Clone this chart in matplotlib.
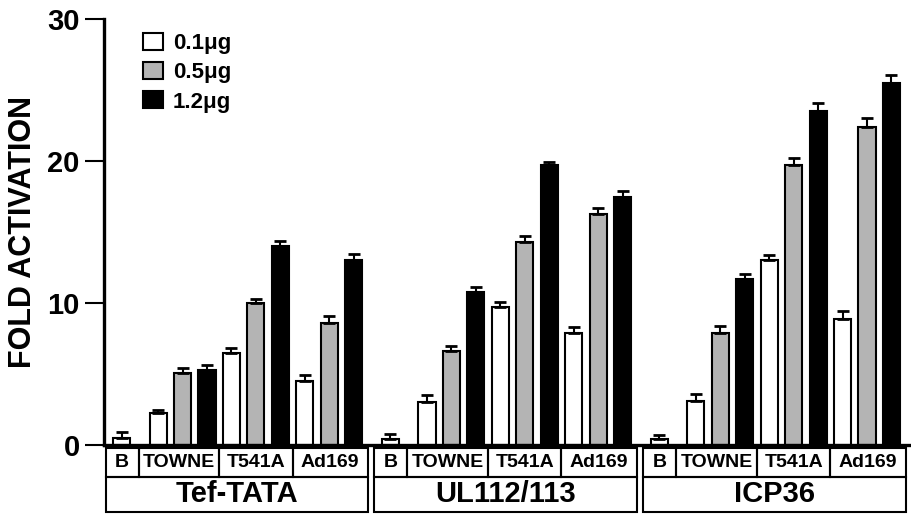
import numpy as np
import matplotlib
matplotlib.use("Agg")
import matplotlib.pyplot as plt
from matplotlib.patches import Rectangle, Patch
from matplotlib.transforms import blended_transform_factory

plt.rcParams['font.family'] = ['Liberation Sans', 'DejaVu Sans']
plt.rcParams['font.weight'] = 'bold'

reporters = ["Tef-TATA", "UL112/113", "ICP36"]
constructs = ["TOWNE", "T541A", "Ad169"]
doses = ["0.1\u03bcg", "0.5\u03bcg", "1.2\u03bcg"]

# basal (B) value per reporter
basal = [0.5, 0.42, 0.42]
basal_err = [0.4, 0.35, 0.3]

# per reporter: rows = construct, cols = dose
tef_tata = [[2.25, 5.1, 5.3], [6.5, 10.0, 14.0], [4.5, 8.6, 13.0]]
tef_tata_err = [[0.2, 0.3, 0.3], [0.35, 0.3, 0.4], [0.4, 0.5, 0.45]]
ul112 = [[3.05, 6.6, 10.8], [9.75, 14.3, 19.7], [7.9, 16.3, 17.5]]
ul112_err = [[0.5, 0.35, 0.3], [0.3, 0.4, 0.2], [0.4, 0.4, 0.4]]
icp36 = [[3.1, 7.9, 11.7], [13.05, 19.7, 23.5], [8.9, 22.4, 25.5]]
icp36_err = [[0.5, 0.5, 0.35], [0.35, 0.5, 0.6], [0.55, 0.65, 0.55]]

values = [tef_tata, ul112, icp36]
errors = [tef_tata_err, ul112_err, icp36_err]

colors = ["white", "#b4b4b4", "black"]
width = 0.7
stride = 11

fig = plt.figure(figsize=(9.12, 5.14), dpi=100)
ax = fig.add_axes([104/912, 69/514, 806/912, 426/514])

for g in range(3):
    off = g * stride
    ax.bar(off, basal[g], width, color="white", edgecolor="black", linewidth=1.5,
           yerr=[[0], [basal_err[g]]], error_kw=dict(ecolor="black", elinewidth=1.5, capsize=4.5, capthick=2))
    for c in range(3):
        for d in range(3):
            x = off + 1.5 + c * 3 + d
            ax.bar(x, values[g][c][d], width, color=colors[d], edgecolor="black", linewidth=1.5,
                   yerr=[[0], [errors[g][c][d]]],
                   error_kw=dict(ecolor="black", elinewidth=1.5, capsize=4.5, capthick=2))

ax.set_xlim(-0.716, 32.26)
ax.set_ylim(0, 30)
ax.set_yticks([0, 10, 20, 30])
ax.tick_params(axis='y', length=14, width=1.5, pad=3.5, labelsize=21)
ax.set_xticks([])
for s in ["top", "right"]:
    ax.spines[s].set_visible(False)
ax.spines["left"].set_linewidth(2.4)
ax.spines["bottom"].set_linewidth(2.4)
ax.set_ylabel("FOLD ACTIVATION", fontsize=22, fontweight="bold")
ax.yaxis.set_label_coords(-0.082, 0.5)

# boxes under the axis with construct and reporter names
tr = blended_transform_factory(ax.transData, ax.transAxes)
y_top, y_mid, y_bot = -0.007, -0.075, -0.157
for g in range(3):
    off = g * stride
    edges = [off - 0.65, off + 0.7, off + 4.0, off + 7.0, off + 10.08]
    names = ["B"] + constructs
    for i in range(4):
        ax.add_patch(Rectangle((edges[i], y_mid), edges[i+1] - edges[i], y_top - y_mid,
                               transform=tr, fill=False, lw=1.5, clip_on=False))
        ax.text((edges[i] + edges[i+1]) / 2, (y_top + y_mid) / 2, names[i], transform=tr,
                ha="center", va="center", fontsize=14, fontweight="bold")
    ax.add_patch(Rectangle((edges[0], y_bot), edges[-1] - edges[0], y_mid - y_bot,
                           transform=tr, fill=False, lw=1.5, clip_on=False))
    ax.text((edges[0] + edges[-1]) / 2, (y_mid + y_bot) / 2, reporters[g], transform=tr,
            ha="center", va="center", fontsize=21, fontweight="bold")

handles = [Patch(facecolor=colors[d], edgecolor="black", linewidth=1.5) for d in range(3)]
ax.legend(handles, doses, loc="upper left", bbox_to_anchor=(143/912, 1 - 33/514),
          bbox_transform=fig.transFigure, frameon=False, fontsize=16, handlelength=0.9,
          handleheight=0.8, handletextpad=0.45, labelspacing=0.36, borderpad=0, borderaxespad=0)

fig.savefig("out.png", dpi=100)
